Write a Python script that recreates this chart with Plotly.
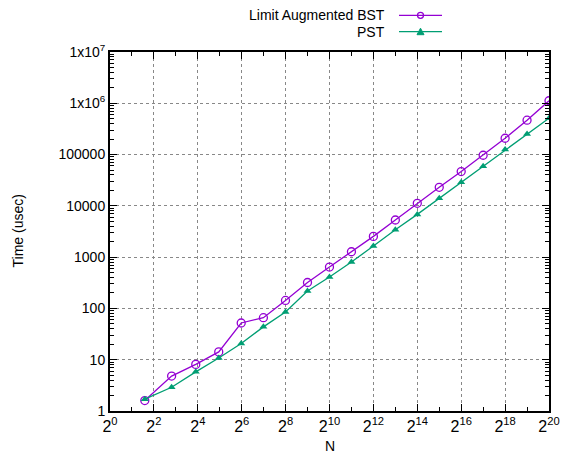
import plotly.graph_objects as go
import numpy as np

# Data
k_exp = list(range(2, 21))
N = [2**k - 1 for k in k_exp]
bst_times = [1.6, 4.8, 8.1, 14.2, 52, 66, 143, 320, 641, 1274, 2540, 5300,
             11200, 23000, 46600, 97000, 208000, 468000, 1120000]
pst_times = [1.7, 2.9, 5.8, 10.8, 20.7, 43.7, 85, 218, 409, 802, 1650, 3430,
             6820, 14000, 28800, 59000, 125000, 253000, 512000]
series_names = ["Limit Augmented BST", "PST"]

x_tick_exps = list(range(0, 21, 2))
x_tickvals = [2**e for e in x_tick_exps]
x_ticktext = [f"2<sup>{e}</sup>" for e in x_tick_exps]
x_minor = [2**e for e in range(1, 21, 2)]

y_tickvals = [10**e for e in range(0, 8)]
y_ticktext = ["1", "10", "100", "1000", "10000", "100000",
              "1x10<sup>6</sup>", "1x10<sup>7</sup>"]
y_minor = [m * 10**e for e in range(0, 7) for m in range(2, 10)]

PURPLE = "#9400D3"
GREEN = "#009E73"
FONT = "Liberation Sans, Arial, sans-serif"

fig = go.Figure()
fig.add_trace(go.Scatter(x=N, y=bst_times, mode="lines+markers", name=series_names[0],
                         line=dict(color=PURPLE, width=1.3),
                         marker=dict(symbol="circle-open", size=8, color=PURPLE,
                                     line=dict(width=1.3, color=PURPLE)),
                         showlegend=False))
fig.add_trace(go.Scatter(x=N, y=pst_times, mode="lines+markers", name=series_names[1],
                         line=dict(color=GREEN, width=1.3),
                         marker=dict(symbol="triangle-up", size=7, color=GREEN),
                         showlegend=False))

L, R, T, B = 110, 12, 52, 44
W, H = 561, 455
pw, ph = W - L - R, H - T - B

def px2paper(px, py):
    return (px - L) / pw, (H - B - py) / ph

# custom gnuplot-style legend (text on left, sample on right)
shapes = []
annotations = []
rows = [(series_names[0], 15.3, PURPLE, "circle"), (series_names[1], 31.7, GREEN, "tri")]
for name, py, col, mk in rows:
    xt, yp = px2paper(387, py)
    annotations.append(dict(x=xt, y=yp, xref="paper", yref="paper", text=name,
                            showarrow=False, xanchor="right", yanchor="middle",
                            font=dict(family=FONT, size=14, color="black")))
    x0, _ = px2paper(399, py)
    x1, _ = px2paper(442, py)
    shapes.append(dict(type="line", xref="paper", yref="paper", x0=x0, x1=x1, y0=yp, y1=yp,
                       line=dict(color=col, width=1.3)))
    cx = 420.5
    if mk == "circle":
        a0, b0 = px2paper(cx - 3, py + 3)
        a1, b1 = px2paper(cx + 3, py - 3)
        shapes.append(dict(type="circle", xref="paper", yref="paper", x0=a0, x1=a1, y0=b0, y1=b1,
                           line=dict(color=col, width=1.3), fillcolor="rgba(0,0,0,0)"))
    else:
        p1 = px2paper(cx - 3.5, py + 3)
        p2 = px2paper(cx + 3.5, py + 3)
        p3 = px2paper(cx, py - 3.5)
        path = f"M {p1[0]} {p1[1]} L {p2[0]} {p2[1]} L {p3[0]} {p3[1]} Z"
        shapes.append(dict(type="path", xref="paper", yref="paper", path=path,
                           line=dict(color=col, width=1), fillcolor=col))

annotations.append(dict(x=0.5, y=px2paper(0, 446)[1], xref="paper", yref="paper", text="N",
                        showarrow=False, xanchor="center", yanchor="middle",
                        font=dict(family=FONT, size=14, color="black")))
annotations.append(dict(x=px2paper(17, 0)[0], y=0.5, xref="paper", yref="paper",
                        text="Time (usec)", textangle=-90, showarrow=False,
                        xanchor="center", yanchor="middle",
                        font=dict(family=FONT, size=14, color="black")))

axis_common = dict(showline=True, linecolor="black", linewidth=2, mirror="ticks",
                   ticks="inside", ticklen=7, tickcolor="black", tickwidth=1,
                   showgrid=True, gridcolor="#888888", griddash="dot", gridwidth=1,
                   zeroline=False, automargin=False,
                   tickfont=dict(family=FONT, size=16, color="black"))

fig.update_layout(
    width=W, height=H,
    margin=dict(l=L, r=R, t=T, b=B),
    plot_bgcolor="white", paper_bgcolor="white",
    xaxis=dict(type="log", range=[0, np.log10(2**20)], tickmode="array",
               tickvals=x_tickvals, ticktext=x_ticktext,
               minor=dict(tickmode="array", tickvals=x_minor, ticks="inside",
                          ticklen=4, tickcolor="black", showgrid=False),
               **axis_common),
    yaxis=dict(type="log", range=[0, 7], tickmode="array",
               tickvals=y_tickvals, ticktext=y_ticktext,
               minor=dict(tickmode="array", tickvals=y_minor, ticks="inside",
                          ticklen=4, tickcolor="black", showgrid=False),
               **axis_common),
    shapes=shapes,
    annotations=annotations,
    showlegend=False,
)
fig.update_yaxes(tickfont=dict(size=14))

fig.write_html("out.html")
